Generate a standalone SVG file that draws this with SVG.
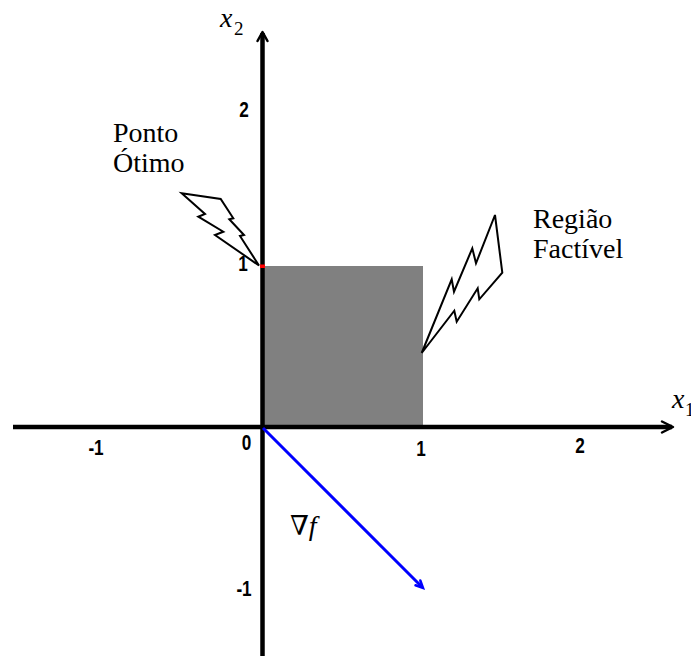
<svg xmlns="http://www.w3.org/2000/svg" width="691" height="656" viewBox="0 0 691 656">
<style>
.axis{stroke:#000;stroke-width:4.5;fill:none}
.head{stroke:#000;stroke-width:2.5;fill:none;stroke-linecap:round;stroke-linejoin:round}
.tick{font-family:"Liberation Sans",Arial,sans-serif;font-weight:bold;font-size:22px;text-anchor:middle;fill:#000}
.lbl{font-family:"Liberation Serif","Times New Roman",serif;font-size:28px;fill:#000}
.var{font-family:"Liberation Serif","Times New Roman",serif;font-style:italic;font-size:28px;fill:#000}
.sub{font-family:"Liberation Serif","Times New Roman",serif;font-size:19px;fill:#000}
.nabla{font-family:"DejaVu Serif","Liberation Serif",serif;font-size:27px;fill:#000}
.bolt{fill:#fff;stroke:#000;stroke-width:2;stroke-linejoin:miter}
</style>
<rect width="691" height="656" fill="#fff"/>
<g id="region">
<rect x="262" y="266" width="161" height="161" fill="#808080"/>
</g>
<g id="connectors">
<line class="axis" x1="13" y1="427" x2="672" y2="427"/>
<polyline class="head" points="662,421.5 673,427 662,432.5"/>
<line class="axis" x1="262.5" y1="656" x2="262.5" y2="33"/>
<polyline class="head" points="257.5,41 262.5,32 267.5,41"/>
<line x1="263" y1="428" x2="422" y2="587" stroke="#0000ff" stroke-width="3"/>
<polyline points="415.5,585.3 423,588 420.3,580.5" fill="none" stroke="#0000ff" stroke-width="2.5" stroke-linecap="round"/>
</g>
<g id="optimum">
<rect x="260" y="264.5" width="5" height="3.5" fill="#ff0000"/>
</g>
<g id="ticks">
<text class="tick" transform="translate(244,117) scale(0.78,1)">2</text>
<text class="tick" transform="translate(243,271) scale(0.78,1)">1</text>
<text class="tick" transform="translate(246.5,450) scale(0.78,1)">0</text>
<text class="tick" transform="translate(244,596) scale(0.78,1)">-1</text>
<text class="tick" transform="translate(96,455) scale(0.78,1)">-1</text>
<text class="tick" transform="translate(421,456) scale(0.78,1)">1</text>
<text class="tick" transform="translate(580,453) scale(0.78,1)">2</text>
</g>
<g id="axis-labels">
<text x="220" y="27" class="var">x</text><text x="234" y="35" class="sub">2</text>
<text x="672" y="408" class="var">x</text><text x="685" y="416" class="sub">1</text>
</g>
<g id="bolt-optimum">
<polygon class="bolt" points="181.7,193.3 220.7,199 233.3,218.3 229.3,219.3 244,235 240,236 259,265.5 215,235 223.3,231.7 198.3,216.7 205,214"/>
</g>
<g id="bolt-region">
<polygon class="bolt" points="495,215 502.3,272.7 479.3,299.3 477.7,288.3 456.7,321.7 454.3,310.7 421.7,353 451.7,279.3 454,291.7 472.3,248.3 476,263.3"/>
</g>
<g id="label-optimum">
<text x="113" y="142" class="lbl">Ponto</text>
<text x="113" y="172" class="lbl">Ótimo</text>
</g>
<g id="label-region">
<text x="533" y="228" class="lbl">Região</text>
<text x="533" y="258" class="lbl">Factível</text>
</g>
<g id="gradient-label">
<text x="290" y="535"><tspan class="nabla">∇</tspan><tspan class="var">f</tspan></text>
</g>
</svg>
